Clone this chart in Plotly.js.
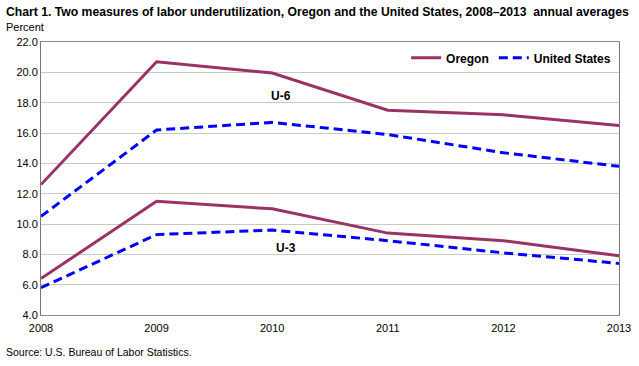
<!DOCTYPE html>
<html><head><meta charset="utf-8">
<script src="https://cdn.plot.ly/plotly-3.0.1.min.js"></script>
<style>html,body{margin:0;padding:0;background:#fff}#chart{width:639px;height:366px}</style>
</head><body><div id="chart"></div>
<script>
const years = [2008, 2009, 2010, 2011, 2012, 2013];
const oregonU6 = [12.6, 20.7, 19.95, 17.5, 17.2, 16.5];
const usU6 = [10.5, 16.2, 16.7, 15.9, 14.7, 13.8];
const oregonU3 = [6.4, 11.5, 11.0, 9.4, 8.9, 7.9];
const usU3 = [5.8, 9.3, 9.6, 8.9, 8.1, 7.4];
const yTicks = [4, 6, 8, 10, 12, 14, 16, 18, 20, 22];

const FONT = "Liberation Sans Narrow, Liberation Sans, Arial, sans-serif";
const oregonLine = {color: '#993366', width: 3};
const usLine = {color: '#0000FF', width: 3, dash: '9px,5px'};

const traces = [
  {x: years, y: oregonU6, mode: 'lines', name: 'Oregon', line: oregonLine, legendgroup: 'or'},
  {x: years, y: usU6, mode: 'lines', name: 'United States', line: usLine, legendgroup: 'us'},
  {x: years, y: oregonU3, mode: 'lines', name: 'Oregon', line: oregonLine, legendgroup: 'or', showlegend: false},
  {x: years, y: usU3, mode: 'lines', name: 'United States', line: usLine, legendgroup: 'us', showlegend: false}
];

const layout = {
  width: 639, height: 366,
  margin: {l: 41, r: 20, t: 42, b: 51},
  paper_bgcolor: '#fff', plot_bgcolor: '#fff',
  font: {family: FONT, size: 11, color: '#000'},
  showlegend: true,
  legend: {orientation: 'h', x: 0.995, xanchor: 'right', y: 0.995, yanchor: 'top',
           font: {family: FONT, size: 12, color: '#000', weight: 'bold'}, bgcolor: 'rgba(255,255,255,0)'},
  xaxis: {range: [2008, 2013], tickvals: years, ticktext: years.map(String),
          showgrid: false, zeroline: false, showline: true, linecolor: '#888', linewidth: 1,
          mirror: true, ticks: '', ticklabelstandoff: 3, tickfont: {family: FONT, size: 11}},
  yaxis: {range: [4, 22], tickvals: yTicks, ticktext: yTicks.map(v => v.toFixed(1)),
          showgrid: true, gridcolor: '#c8cbc4', gridwidth: 1, zeroline: false,
          showline: true, linecolor: '#777', linewidth: 1, mirror: true, ticks: '',
          tickfont: {family: FONT, size: 11}},
  annotations: [
    {text: 'Chart 1. Two measures of labor underutilization, Oregon and the United States, 2008\u20132013  annual averages',
     xref: 'paper', yref: 'paper', x: -0.064, y: 1.11, xanchor: 'left', yanchor: 'middle', showarrow: false,
     font: {family: FONT, size: 12.2, weight: 'bold'}},
    {text: 'Percent', xref: 'paper', yref: 'paper', x: -0.064, y: 1.055, xanchor: 'left', yanchor: 'middle',
     showarrow: false, font: {family: FONT, size: 11}},
    {text: 'Source: U.S. Bureau of Labor Statistics.', xref: 'paper', yref: 'paper', x: -0.064, y: -0.135,
     xanchor: 'left', yanchor: 'middle', showarrow: false, font: {family: FONT, size: 10.5}},
    {text: 'U-6', x: 2010.08, y: 18.45, showarrow: false, font: {family: FONT, size: 12, weight: 'bold'}},
    {text: 'U-3', x: 2010.12, y: 8.45, showarrow: false, font: {family: FONT, size: 12, weight: 'bold'}}
  ]
};
Plotly.newPlot('chart', traces, layout, {displayModeBar: false, staticPlot: true});
</script></body></html>
